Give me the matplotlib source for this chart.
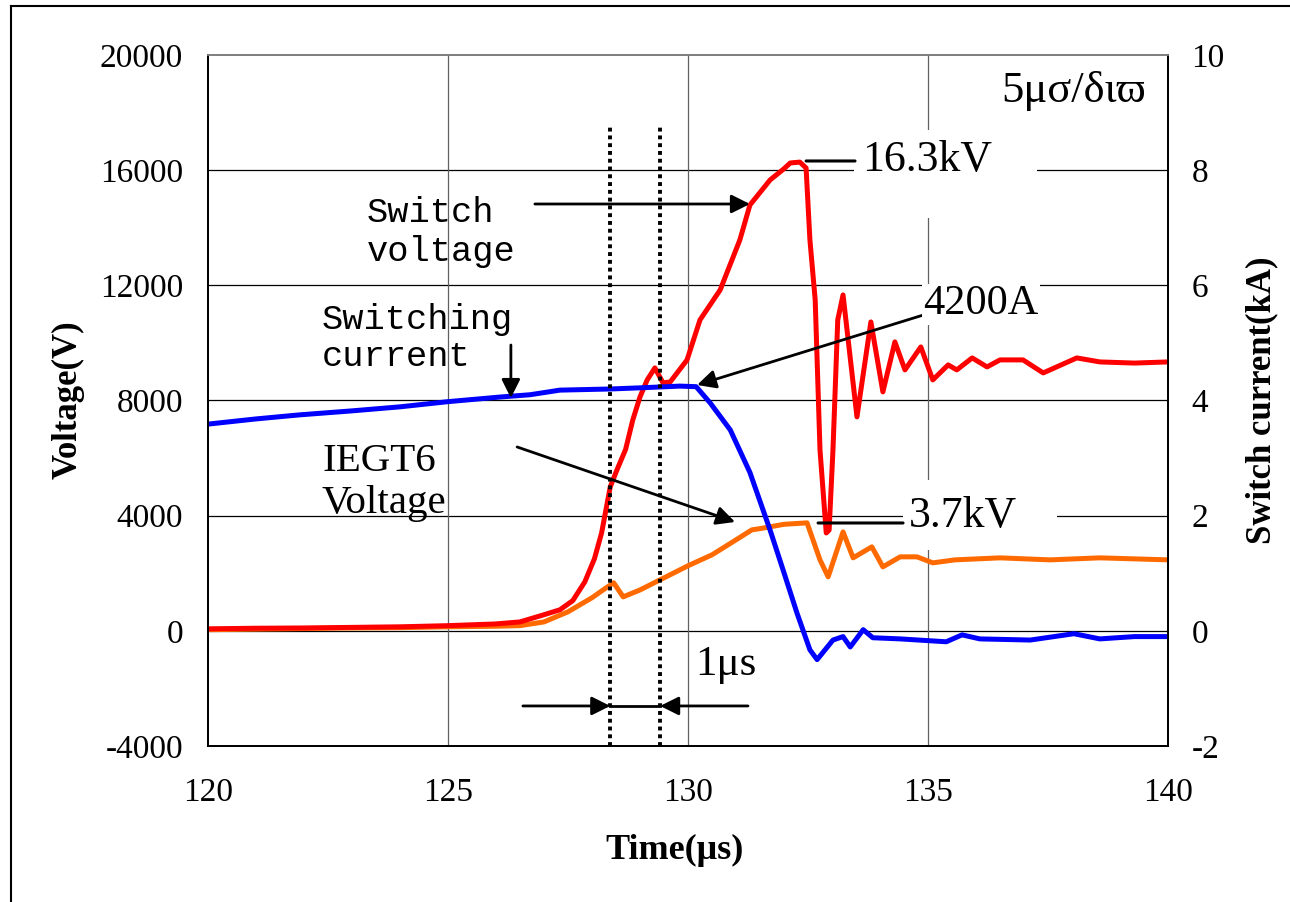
import matplotlib
matplotlib.use("Agg")
import matplotlib.pyplot as plt
from matplotlib.lines import Line2D
from matplotlib.patches import Rectangle

# ---------------- data ----------------
red_t = [120.0, 121.0, 122.0, 123.0, 124.0, 125.0, 126.0, 126.5, 127.0, 127.33, 127.6, 127.85,
         128.05, 128.2, 128.38, 128.52, 128.7, 128.85, 129.0, 129.15, 129.31, 129.48, 129.63,
         129.98, 130.25, 130.67, 131.08, 131.29, 131.71, 132.0, 132.13, 132.33, 132.46, 132.54,
         132.65, 132.75, 132.88, 132.94, 133.02, 133.12, 133.23, 133.52, 133.81, 134.06,
         134.31, 134.52, 134.85, 135.10, 135.42, 135.60, 135.92, 136.23, 136.5, 136.98,
         137.4, 138.1, 138.58, 139.3, 140.0]
red_v = [70, 90, 100, 120, 140, 180, 240, 310, 560, 730, 1050, 1700,
         2500, 3400, 5000, 5590, 6300, 7326, 8125, 8715, 9132, 8611, 8646,
         9410, 10800, 11840, 13576, 14790, 15660, 16050, 16250, 16280, 16076, 13576,
         11490, 6280, 3400, 3500, 6280, 10800, 11667, 7431, 10729, 8299,
         10035, 9063, 9861, 8715, 9236, 9063, 9479, 9167, 9410, 9410,
         8958, 9479, 9340, 9300, 9340]

org_t = [120, 121, 122, 123, 124, 125, 126, 126.5, 127.0, 127.5, 128.0, 128.3, 128.45,
         128.65, 129.0, 129.5, 130.0, 130.5, 131.0, 131.33, 131.5, 132.0, 132.48, 132.75,
         132.92, 133.23, 133.44, 133.83, 134.06, 134.42, 134.77, 135.1, 135.56, 136.5,
         137.54, 138.58, 140]
org_v = [40, 60, 80, 100, 110, 140, 160, 180, 310, 660, 1150, 1500, 1670,
         1180, 1420, 1840, 2260, 2640, 3160, 3507, 3550, 3700, 3750, 2465,
         1875, 3437, 2535, 2917, 2222, 2570, 2570, 2361, 2465, 2535,
         2465, 2535, 2465]

cur_t = [120, 121, 121.9, 123, 124, 125, 126.08, 126.71, 127.33, 128.38, 129.0, 129.83,
         130.17, 130.46, 130.88, 131.29, 131.71, 131.98, 132.27, 132.54, 132.69, 133.02,
         133.23, 133.38, 133.65, 133.85, 134.42, 135.38, 135.71, 136.08, 137.13, 138.04,
         138.58, 139.3, 140]
cur_ka = [3.59, 3.68, 3.75, 3.82, 3.89, 3.98, 4.06, 4.10, 4.18, 4.20, 4.22, 4.25,
          4.24, 3.96, 3.49, 2.75, 1.75, 1.06, 0.31, -0.33, -0.50, -0.16,
          -0.10, -0.28, 0.02, -0.12, -0.14, -0.19, -0.07, -0.14, -0.16, -0.05,
          -0.14, -0.10, -0.10]

x_ticks = [120, 125, 130, 135, 140]
v_ticks = [-4000, 0, 4000, 8000, 12000, 16000, 20000]
i_ticks = [-2, 0, 2, 4, 6, 8, 10]
marker_times = [128.38, 129.42]

SERIF = ['Liberation Serif', 'DejaVu Serif']
MONO = ['Liberation Mono', 'DejaVu Sans Mono']

# ---------------- figure ----------------
fig = plt.figure(figsize=(12.9, 9.02), dpi=100)
ax = fig.add_axes([208/1290, 1-746/902, (1168-208)/1290, (746-55)/902])
ax2 = ax.twinx()

ax.set_xlim(120, 140)
ax.set_ylim(-4000, 20000)
ax2.set_ylim(-2, 10)
ax.set_xticks(x_ticks)
ax.set_yticks(v_ticks)
ax2.set_yticks(i_ticks)
ax.set_xticklabels([str(v) for v in x_ticks], fontfamily=SERIF, fontsize=24)
ax.set_yticklabels([str(v) for v in v_ticks], fontfamily=SERIF, fontsize=24)
ax2.set_yticklabels([str(v) for v in i_ticks], fontfamily=SERIF, fontsize=24)
ax.tick_params(axis='y', length=0, pad=18)
ax.tick_params(axis='x', length=0, pad=23)
ax2.tick_params(axis='y', length=0, pad=17)

# grid
for v in v_ticks[1:-1]:
    ax.axhline(v, color='black', lw=0.9, zorder=0.5)
for t in x_ticks[1:-1]:
    ax.axvline(t, color='#606060', lw=0.9, zorder=0.5)

for a in (ax, ax2):
    a.spines['top'].set_color('#808080')
    a.spines['left'].set_color('black')
    a.spines['right'].set_color('black')
    a.spines['bottom'].set_color('black')
    for s in a.spines.values():
        s.set_linewidth(1.3)

# white masks behind labels
ax.add_patch(Rectangle((133.46, 14339), 3.81, 3056, facecolor='white', edgecolor='none', zorder=0.8))
ax.add_patch(Rectangle((134.48, 2813), 3.21, 2427, facecolor='white', edgecolor='none', zorder=0.8))

# curves
LW = 3.6
ax.plot(org_t, org_v, color='#ff6a00', lw=LW, zorder=2, solid_joinstyle='round')
ax.plot(red_t, red_v, color='#ff0000', lw=LW, zorder=3, solid_joinstyle='round')
ax2.plot(cur_t, cur_ka, color='#0000ff', lw=LW, zorder=2, solid_joinstyle='round')

T = ax.transData
# dotted markers
for t in marker_times:
    ax2.plot([t, t], [-4000, 17569], transform=T, color='black', lw=2.8,
             linestyle=(0, (1, 1)), zorder=5)

ap = dict(arrowstyle='-|>', mutation_scale=28, lw=2, color='black', shrinkA=0, shrinkB=0)
ln = dict(arrowstyle='-', lw=2.2, color='black', shrinkA=0, shrinkB=0)

# Switch voltage
ax2.annotate('', xy=(131.29, 14825), xytext=(126.81, 14825), xycoords=T, textcoords=T,
             arrowprops=ap, zorder=6)
ax2.text(123.31, 13853, 'Switch\nvoltage', transform=T, fontfamily=MONO, fontsize=25.5,
         ha='left', va='center', linespacing=1.25, zorder=6)
# Switching current
ax2.annotate('', xy=(126.31, 8087), xytext=(126.31, 9928), xycoords=T, textcoords=T,
             arrowprops=ap, zorder=6)
ax2.text(122.375, 10171, 'Switching\ncurrent', transform=T, fontfamily=MONO, fontsize=25.5,
         ha='left', va='center', linespacing=1.15, zorder=6)
# 4200A
ax2.annotate('', xy=(130.19, 8539), xytext=(135.04, 11040), xycoords=T, textcoords=T,
             arrowprops=ap, zorder=6)
ax2.text(134.9, 11350, '4200A', transform=T, fontfamily=SERIF, fontsize=30.5,
         ha='left', va='center', zorder=7,
         bbox=dict(facecolor='white', edgecolor='none', pad=1))
# IEGT6 Voltage
ax2.annotate('', xy=(130.98, 3781), xytext=(126.44, 6386), xycoords=T, textcoords=T,
             arrowprops=ap, zorder=6)
ax2.text(122.375, 5150, 'IEGT6\nVoltage', transform=T, fontfamily=SERIF, fontsize=29.5,
         ha='left', va='center', linespacing=1.16, zorder=6)
# 16.3kV
ax2.annotate('', xy=(133.48, 16319), xytext=(132.46, 16319), xycoords=T, textcoords=T,
             arrowprops=ln, zorder=6)
ax2.text(133.63, 16350, '16.3kV', transform=T, fontfamily=SERIF, fontsize=31.5,
         ha='left', va='center', zorder=7)
# 3.7kV
ax2.annotate('', xy=(134.48, 3746), xytext=(132.71, 3746), xycoords=T, textcoords=T,
             arrowprops=ln, zorder=6)
ax2.text(134.6, 4000, '3.7kV', transform=T, fontfamily=SERIF, fontsize=31.5,
         ha='left', va='center', zorder=7)
# 1us
ax2.annotate('', xy=(marker_times[0], -2609), xytext=(126.56, -2609), xycoords=T,
             textcoords=T, arrowprops=ap, zorder=6)
ax2.annotate('', xy=(marker_times[1], -2609), xytext=(131.25, -2609), xycoords=T,
             textcoords=T, arrowprops=ap, zorder=6)
ax2.plot(marker_times, [-2609, -2609], transform=T, color='black', lw=2, zorder=6)
ax2.text(130.15, -1186, '1μs', transform=T, fontfamily=SERIF, fontsize=31,
         ha='left', va='center', zorder=6)

# scale note
ax2.text(139.55, 18750, '5μσ/διϖ', transform=T, fontfamily=SERIF, fontsize=32,
         ha='right', va='center', zorder=6)

# axis labels
fig.text(68/1290, 1-400/902, 'Voltage(V)', rotation=90, ha='center', va='center',
         fontfamily=SERIF, fontsize=25, fontweight='bold')
fig.text(1262/1290, 1-400/902, 'Switch current(kA)', rotation=90, ha='center', va='center',
         fontfamily=SERIF, fontsize=25, fontweight='bold')
fig.text(675/1290, 1-850/902, 'Time(μs)', ha='center', va='center',
         fontfamily=SERIF, fontsize=26, fontweight='bold')

# outer frame (top and left edges visible)
fig.add_artist(Line2D([11/1290, 11/1290], [0, 1-6/902], transform=fig.transFigure,
                      color='black', lw=1.5))
fig.add_artist(Line2D([11/1290, 1], [1-6/902, 1-6/902], transform=fig.transFigure,
                      color='black', lw=1.5))

fig.savefig('out.png', dpi=100, facecolor='white')
